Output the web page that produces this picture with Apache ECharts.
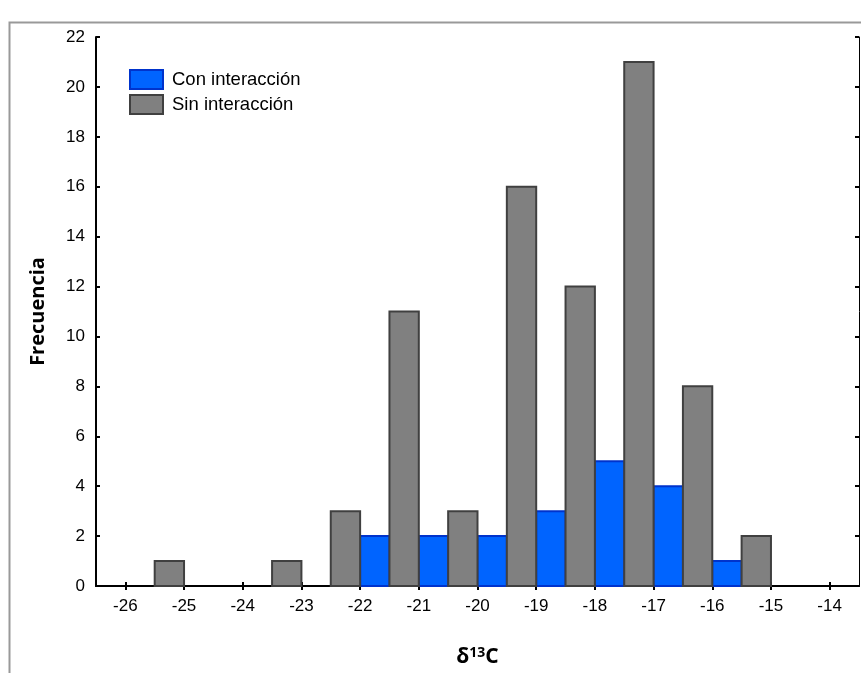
<!DOCTYPE html>
<html>
<head>
<meta charset="utf-8">
<script src="https://cdn.jsdelivr.net/npm/echarts@6/dist/echarts.min.js"></script>
<style>
html,body{margin:0;padding:0;background:#fff;}
#chart{width:861px;height:673px;}
</style>
</head>
<body>
<div id="chart"></div>
<script>
// ---- data ----
const BIN_WIDTH = 0.5;
const xTickLabels = [-26, -25, -24, -23, -22, -21, -20, -19, -18, -17, -16, -15, -14];
const yTickLabels = [0, 2, 4, 6, 8, 10, 12, 14, 16, 18, 20, 22];
const conBinStarts = [-22, -21, -20, -19, -18, -17, -16];
const conValues    = [2, 2, 2, 3, 5, 4, 1];
const sinBinStarts = [-25.5, -23.5, -22.5, -21.5, -20.5, -19.5, -18.5, -17.5, -16.5, -15.5];
const sinValues    = [1, 1, 3, 11, 3, 16, 12, 21, 8, 2];
const seriesNames  = ['Con interacción', 'Sin interacción'];

const FONT = 'Liberation Sans, Arial, sans-serif';
const TITLE_FONT = 'Open Sans, sans-serif';

const conData = conBinStarts.map((s, i) => [s, s + BIN_WIDTH, conValues[i]]);
const sinData = sinBinStarts.map((s, i) => [s, s + BIN_WIDTH, sinValues[i]]);

function makeRender(fill, stroke) {
  return function (params, api) {
    const p0 = api.coord([api.value(0), api.value(2)]);
    const p1 = api.coord([api.value(1), 0]);
    return {
      type: 'rect',
      shape: { x: p0[0], y: p0[1], width: p1[0] - p0[0], height: p1[1] - p0[1] },
      style: { fill: fill, stroke: stroke, lineWidth: 2 }
    };
  };
}

const chart = echarts.init(document.getElementById('chart'), null, { renderer: 'canvas' });
const xMin = xTickLabels[0] - 0.5, xMax = xTickLabels[xTickLabels.length - 1] + 0.5;
const axisLineStyle = { color: '#000', width: 2 };

chart.setOption({
  animation: false,
  backgroundColor: '#fff',
  graphic: [{
    type: 'rect', left: 7, top: 20, z: -1,
    shape: { width: 900, height: 700 },
    style: { fill: 'none', stroke: '#999', lineWidth: 2 }
  }],
  grid: { left: 96, top: 37, right: 2, bottom: 84, containLabel: false },
  legend: {
    orient: 'vertical', left: 124, top: 64, itemWidth: 33, itemHeight: 19, itemGap: 4,
    textStyle: { fontFamily: FONT, fontSize: 18.5, color: '#000', padding: [0, 0, 0, 4] },
    data: [
      { name: seriesNames[0], icon: 'rect', itemStyle: { color: '#0064ff', borderColor: '#0033cc', borderWidth: 2 } },
      { name: seriesNames[1], icon: 'rect', itemStyle: { color: '#808080', borderColor: '#404040', borderWidth: 2 } }
    ]
  },
  xAxis: [{
    type: 'value', position: 'bottom', min: xMin, max: xMax,
    axisLine: { lineStyle: axisLineStyle },
    axisTick: { inside: true, length: 4, lineStyle: { color: '#000', width: 2 }, customValues: xTickLabels },
    axisLabel: { customValues: xTickLabels, margin: 12, fontFamily: FONT, fontSize: 17, color: '#000' },
    splitLine: { show: false },
    name: '{d|δ}{s|13}{d|C}', nameLocation: 'middle', nameGap: 60,
    nameTextStyle: {
      rich: {
        d: { fontFamily: TITLE_FONT, fontWeight: 'bold', fontSize: 21, color: '#000' },
        s: { fontFamily: TITLE_FONT, fontWeight: 'bold', fontSize: 14, color: '#000', verticalAlign: 'top', padding: [0, 0, 9, 0] }
      }
    }
  }, {
    type: 'value', position: 'top', min: xMin, max: xMax,
    axisLine: { lineStyle: axisLineStyle },
    axisTick: { inside: true, length: 4, lineStyle: { color: '#000', width: 2 }, customValues: xTickLabels },
    axisLabel: { show: false },
    splitLine: { show: false }
  }],
  yAxis: [{
    type: 'value', position: 'left', min: yTickLabels[0], max: yTickLabels[yTickLabels.length - 1], interval: 2,
    axisLine: { show: true, lineStyle: axisLineStyle },
    axisTick: { show: true, inside: true, length: 4, lineStyle: { color: '#000', width: 2 } },
    axisLabel: { margin: 11, fontFamily: FONT, fontSize: 17, color: '#000' },
    splitLine: { show: false },
    name: 'Frecuencia', nameLocation: 'middle', nameGap: 48, nameRotate: 90,
    nameTextStyle: { fontFamily: TITLE_FONT, fontWeight: 'bold', fontSize: 20, color: '#000' }
  }, {
    type: 'value', position: 'right', min: yTickLabels[0], max: yTickLabels[yTickLabels.length - 1], interval: 2,
    axisLine: { show: true, lineStyle: { color: '#000', width: 1 } },
    axisTick: { show: true, inside: true, length: 4, lineStyle: { color: '#000', width: 2 } },
    axisLabel: { show: false },
    splitLine: { show: false }
  }],
  series: [{
    name: seriesNames[0], type: 'custom', xAxisIndex: 0, yAxisIndex: 0,
    itemStyle: { color: '#0064ff', borderColor: '#0033cc', borderWidth: 2 },
    encode: { x: [0, 1], y: 2 },
    renderItem: makeRender('#0064ff', '#0033cc'),
    data: conData
  }, {
    name: seriesNames[1], type: 'custom', xAxisIndex: 0, yAxisIndex: 0,
    itemStyle: { color: '#808080', borderColor: '#404040', borderWidth: 2 },
    encode: { x: [0, 1], y: 2 },
    renderItem: makeRender('#808080', '#404040'),
    data: sinData
  }]
});
</script>
</body>
</html>
